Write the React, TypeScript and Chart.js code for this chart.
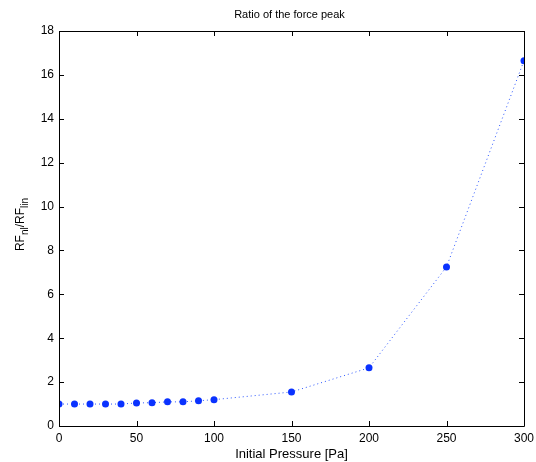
import React, { useEffect, useRef } from "react";
import { Chart, registerables } from "chart.js";

Chart.register(...registerables);

const pressures = [0, 10, 20, 30, 40, 50, 60, 70, 80, 90, 100, 150, 200, 250, 300];
const ratios = [1.0, 1.0, 1.0, 1.0, 1.0, 1.05, 1.06, 1.1, 1.1, 1.15, 1.2, 1.55, 2.65, 7.25, 16.65];
const xTicks = [0, 50, 100, 150, 200, 250, 300];
const yTicks = [0, 2, 4, 6, 8, 10, 12, 14, 16, 18];
const titleText = "Ratio of the force peak";
const xLabel = "Initial Pressure [Pa]";

const FONT = "Arial, 'Liberation Sans', sans-serif";

const matlabPlugin = {
  id: "matlabBox",
  afterDraw(chart: any) {
    const { ctx, chartArea: a } = chart;
    const xs = chart.scales.x;
    const ys = chart.scales.y;
    ctx.save();
    ctx.strokeStyle = "#000";
    ctx.lineWidth = 1;
    ctx.beginPath();
    ctx.rect(Math.round(a.left) + 0.5, Math.round(a.top) + 0.5, Math.round(a.right - a.left), Math.round(a.bottom - a.top));
    ctx.stroke();
    const tl = 5;
    ctx.beginPath();
    for (const v of xTicks) {
      const px = Math.round(xs.getPixelForValue(v)) + 0.5;
      ctx.moveTo(px, a.bottom);
      ctx.lineTo(px, a.bottom - tl);
      ctx.moveTo(px, a.top);
      ctx.lineTo(px, a.top + tl);
    }
    for (const v of yTicks) {
      const py = Math.round(ys.getPixelForValue(v)) + 0.5;
      ctx.moveTo(a.left, py);
      ctx.lineTo(a.left + tl, py);
      ctx.moveTo(a.right, py);
      ctx.lineTo(a.right - tl, py);
    }
    ctx.stroke();

    ctx.fillStyle = "#000";
    ctx.textAlign = "center";
    ctx.textBaseline = "middle";
    ctx.font = `11px ${FONT}`;
    ctx.fillText(titleText, (a.left + a.right) / 2 - 2, 15);
    ctx.font = `13px ${FONT}`;
    ctx.fillText(xLabel, (a.left + a.right) / 2, 454);

    // y label with subscripts, rotated
    ctx.translate(21, (a.top + a.bottom) / 2 - 4);
    ctx.rotate(-Math.PI / 2);
    const parts: [string, boolean][] = [["RF", false], ["nl", true], ["/RF", false], ["lin", true]];
    const big = `12px ${FONT}`;
    const small = `10px ${FONT}`;
    let total = 0;
    for (const [t, sub] of parts) {
      ctx.font = sub ? small : big;
      total += ctx.measureText(t).width;
    }
    let x = -total / 2;
    ctx.textAlign = "left";
    ctx.textBaseline = "alphabetic";
    for (const [t, sub] of parts) {
      ctx.font = sub ? small : big;
      ctx.fillText(t, x, sub ? 7 : 3);
      x += ctx.measureText(t).width;
    }
    ctx.restore();
  },
};

export default function App() {
  const ref = useRef<HTMLCanvasElement | null>(null);
  useEffect(() => {
    document.body.style.margin = "0";
    const chart = new Chart(ref.current!, {
      type: "line",
      data: {
        datasets: [
          {
            data: pressures.map((p, i) => ({ x: p, y: ratios[i] })),
            borderColor: "#2a55ff",
            borderWidth: 1,
            borderDash: [1, 3],
            backgroundColor: "#0a32ff",
            pointBackgroundColor: "#0a32ff",
            pointBorderColor: "#0a32ff",
            pointRadius: 3.5,
            pointBorderWidth: 0,
            tension: 0,
          },
        ],
      },
      options: {
        animation: false,
        responsive: false,
        maintainAspectRatio: false,
        layout: { padding: { top: 31, right: 12, left: 0, bottom: 0 } },
        plugins: { legend: { display: false }, tooltip: { enabled: false }, title: { display: false } },
        scales: {
          x: {
            type: "linear",
            min: 0,
            max: 300,
            grid: { display: false, drawTicks: false },
            border: { display: false },
            afterFit: (s: any) => { s.height = 36; s.paddingLeft = 0; s.paddingRight = 0; },
            afterBuildTicks: (s: any) => { s.ticks = xTicks.map((v) => ({ value: v })); },
            ticks: { color: "#000", font: { family: FONT, size: 12 }, padding: 5, maxRotation: 0, autoSkip: false },
          },
          y: {
            type: "linear",
            min: 0,
            max: 18,
            grid: { display: false, drawTicks: false },
            border: { display: false },
            afterFit: (s: any) => { s.width = 59; s.paddingTop = 0; s.paddingBottom = 0; },
            afterBuildTicks: (s: any) => { s.ticks = yTicks.map((v) => ({ value: v })); },
            ticks: { color: "#000", font: { family: FONT, size: 12 }, padding: 5, autoSkip: false },
          },
        },
      },
      plugins: [matlabPlugin],
    });
    return () => chart.destroy();
  }, []);
  return (
    <div style={{ position: "absolute", left: 0, top: 0, width: 536, height: 462, background: "#fff" }}>
      <canvas ref={ref} width={536} height={462} style={{ width: 536, height: 462 }} />
    </div>
  );
}
